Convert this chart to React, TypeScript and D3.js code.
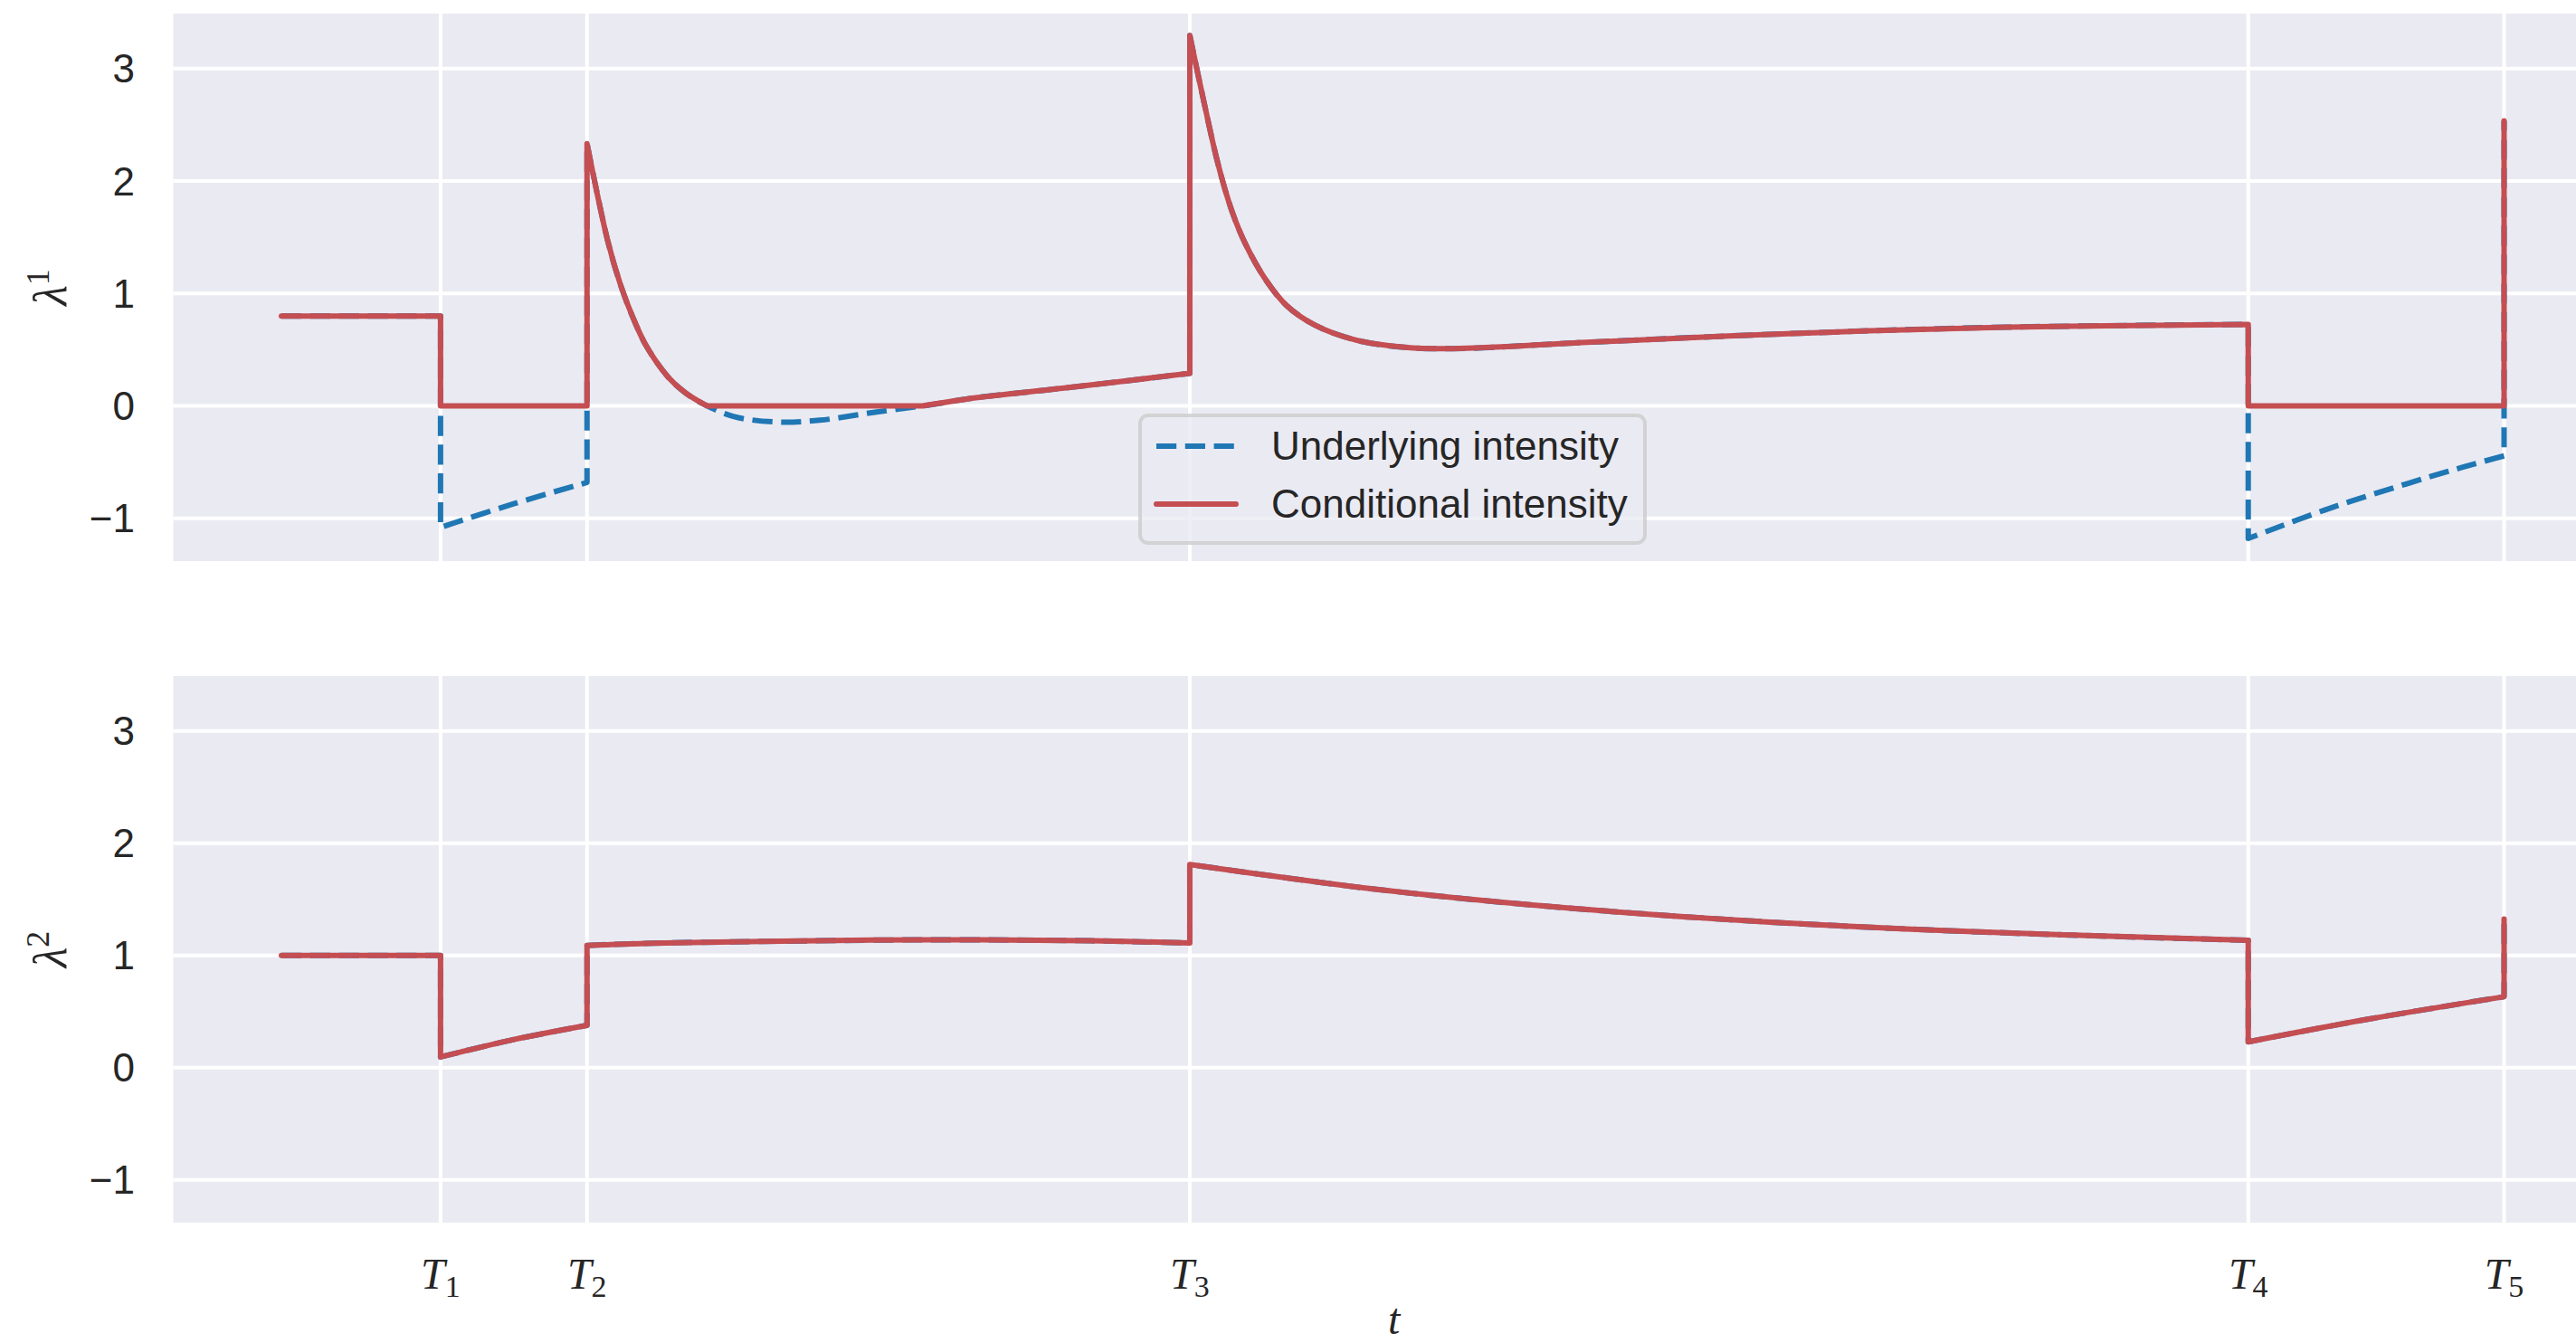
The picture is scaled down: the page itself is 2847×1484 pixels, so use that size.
import React from "react";
import * as d3 from "d3";

type Pt = [number, number];

// ---------- data ----------
const eventTimes = [0.716, 1.375, 4.087, 8.849, 10.0];
const eventSubs = ["1", "2", "3", "4", "5"];
const yTicks = [-1, 0, 1, 2, 3];
const legendLabels = ["Underlying intensity", "Conditional intensity"];

// top panel, underlying intensity (pieces between events)
const underlying1: Pt[][] = [
  [[0, 0.8], [0.716, 0.8]],
  [[0.716, -1.08], [1.045, -0.87], [1.375, -0.68]],
  [[1.375, 2.333], [1.468, 1.47], [1.527, 1.07], [1.585, 0.77], [1.644, 0.525], [1.741, 0.255], [1.819, 0.115], [1.897, 0.02], [2.033, -0.093], [2.228, -0.143], [2.422, -0.127], [2.656, -0.06], [2.909, 0.007], [3.124, 0.073], [3.513, 0.157], [4.087, 0.29]],
  [[4.087, 3.295], [4.151, 2.70], [4.213, 2.16], [4.275, 1.742], [4.337, 1.442], [4.431, 1.115], [4.524, 0.89], [4.649, 0.72], [4.836, 0.585], [5.054, 0.522], [5.272, 0.51], [5.895, 0.568], [6.83, 0.647], [7.764, 0.701], [8.849, 0.725]],
  [[8.849, -1.179], [9.19, -0.928], [9.559, -0.694], [9.815, -0.544], [10.0, -0.444]],
  [[10.0, 2.537]],
];

// top panel, conditional intensity
const conditional1: Pt[][] = [
  [[0, 0.8], [0.716, 0.8]],
  [[0.716, 0], [1.375, 0]],
  [[1.375, 2.333], [1.468, 1.47], [1.527, 1.07], [1.585, 0.77], [1.644, 0.525], [1.741, 0.255], [1.819, 0.115], [1.915, 0]],
  [[1.915, 0], [2.885, 0]],
  [[2.885, 0], [3.124, 0.073], [3.513, 0.157], [4.087, 0.29]],
  [[4.087, 3.295], [4.151, 2.70], [4.213, 2.16], [4.275, 1.742], [4.337, 1.442], [4.431, 1.115], [4.524, 0.89], [4.649, 0.72], [4.836, 0.585], [5.054, 0.522], [5.272, 0.51], [5.895, 0.568], [6.83, 0.647], [7.764, 0.701], [8.849, 0.725]],
  [[8.849, 0], [10.0, 0]],
  [[10.0, 2.537]],
];

// bottom panel, conditional intensity (underlying coincides with it)
const conditional2: Pt[][] = [
  [[0, 1.0], [0.716, 1.0]],
  [[0.716, 0.096], [1.042, 0.25], [1.375, 0.378]],
  [[1.375, 1.09], [1.67, 1.11], [2.163, 1.125], [2.902, 1.14], [3.643, 1.131], [4.087, 1.112]],
  [[4.087, 1.811], [4.876, 1.601], [5.616, 1.452], [6.602, 1.309], [7.589, 1.214], [8.849, 1.135]],
  [[8.849, 0.231], [9.375, 0.428], [10.0, 0.633]],
  [[10.0, 1.326]],
];
const underlying2: Pt[][] = conditional2;

// ---------- layout ----------
const W = 2847;
const H = 1484;
const axLeft = 191.5;
const axRight = 2890;
const panels = [
  { top: 15, bottom: 620, sup: "1", under: underlying1, cond: conditional1, legend: true },
  { top: 747, bottom: 1351, sup: "2", under: underlying2, cond: conditional2, legend: false },
];
const yDomain: [number, number] = [-1.38, 3.49];

const BG = "#EAEAF2";
const RED = "#C44E52";
const BLUE = "#1F77B4";
const TEXT = "#262626";
const SANS = "'Liberation Sans', Arial, 'DejaVu Sans', sans-serif";
const SERIF = "'Liberation Serif', 'DejaVu Serif', serif";

const x = d3.scaleLinear().domain([0, 10]).range([311, 2767.5]);

function piecewisePath(pieces: Pt[][], y: d3.ScaleLinear<number, number>) {
  const line = d3
    .line<Pt>()
    .x((d) => x(d[0]))
    .y((d) => y(d[1]))
    .curve(d3.curveCatmullRom.alpha(0.5));
  let out = "";
  pieces.forEach((p, i) => {
    let seg = p.length === 1 ? `M${x(p[0][0])},${y(p[0][1])}` : line(p) || "";
    seg = seg.replace(/Z$/, "");
    out += i === 0 ? seg : "L" + seg.slice(1);
  });
  return out;
}

function Panel({ p, idx }: { p: (typeof panels)[number]; idx: number }) {
  const y = d3.scaleLinear().domain(yDomain).range([p.bottom, p.top]);
  const cx = `clip${idx}`;
  return (
    <g>
      <defs>
        <clipPath id={cx}>
          <rect x={axLeft} y={p.top} width={axRight - axLeft} height={p.bottom - p.top} />
        </clipPath>
      </defs>
      <rect x={axLeft} y={p.top} width={axRight - axLeft} height={p.bottom - p.top} fill={BG} />
      {yTicks.map((t) => (
        <line key={"gy" + t} x1={axLeft} x2={axRight} y1={y(t)} y2={y(t)} stroke="#fff" strokeWidth={4} />
      ))}
      {eventTimes.map((t, i) => (
        <line key={"gx" + i} x1={x(t)} x2={x(t)} y1={p.top} y2={p.bottom} stroke="#fff" strokeWidth={4} />
      ))}
      {yTicks.map((t) => (
        <text
          key={"ty" + t}
          x={149}
          y={y(t) + 15.5}
          textAnchor="end"
          fontFamily={SANS}
          fontSize={44}
          fill={TEXT}
        >
          {t < 0 ? "\u2212" + Math.abs(t) : String(t)}
        </text>
      ))}
      <g clipPath={`url(#${cx})`}>
        <path
          d={piecewisePath(p.under, y)}
          fill="none"
          stroke={BLUE}
          strokeWidth={6}
          strokeDasharray="22.2 9.6"
          strokeLinejoin="round"
          strokeLinecap="butt"
        />
        <path
          d={piecewisePath(p.cond, y)}
          fill="none"
          stroke={RED}
          strokeWidth={6}
          strokeLinejoin="round"
          strokeLinecap="round"
        />
      </g>
      <text
        transform={`translate(73, ${(p.top + p.bottom) / 2}) rotate(-90)`}
        textAnchor="middle"
        fontFamily={SERIF}
        fontSize={52}
        fill={TEXT}
      >
        <tspan fontStyle="italic">λ</tspan>
        <tspan fontSize={36} dy={-19}>
          {p.sup}
        </tspan>
      </text>
      {p.legend && (
        <g>
          <rect
            x={1260}
            y={459}
            width={558}
            height={141}
            rx={9}
            fill="rgba(234,234,242,0.8)"
            stroke="rgba(204,204,204,0.8)"
            strokeWidth={4}
          />
          <line x1={1278} x2={1366} y1={493} y2={493} stroke={BLUE} strokeWidth={6} strokeDasharray="22.2 9.6" />
          <line x1={1278} x2={1366} y1={557} y2={557} stroke={RED} strokeWidth={6} strokeLinecap="round" />
          <text x={1405} y={508} fontFamily={SANS} fontSize={44} fill={TEXT}>
            {legendLabels[0]}
          </text>
          <text x={1405} y={572} fontFamily={SANS} fontSize={44} fill={TEXT}>
            {legendLabels[1]}
          </text>
        </g>
      )}
    </g>
  );
}

export default function App() {
  return (
    <div style={{ position: "fixed", left: 0, top: 0, width: W, height: H, overflow: "hidden", background: "#fff" }}>
      <svg width={W} height={H} viewBox={`0 0 ${W} ${H}`} style={{ display: "block" }}>
        <rect x={0} y={0} width={W} height={H} fill="#fff" />
        {panels.map((p, i) => (
          <Panel key={i} p={p} idx={i} />
        ))}
        {eventTimes.map((t, i) => (
          <text key={"tx" + i} x={x(t)} y={1424} textAnchor="middle" fontFamily={SERIF} fontSize={48} fill={TEXT}>
            <tspan fontStyle="italic">T</tspan>
            <tspan fontSize={34} dy={9}>
              {eventSubs[i]}
            </tspan>
          </text>
        ))}
        <text
          x={(axLeft + axRight) / 2}
          y={1474}
          textAnchor="middle"
          fontFamily={SERIF}
          fontStyle="italic"
          fontSize={48}
          fill={TEXT}
        >
          t
        </text>
      </svg>
    </div>
  );
}
